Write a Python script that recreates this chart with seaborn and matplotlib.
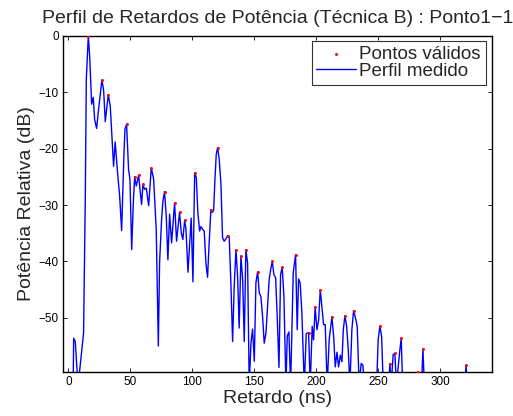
import numpy as np
import matplotlib
matplotlib.use("Agg")
import matplotlib.pyplot as plt
import seaborn as sns

# Perfil medido (ns, dB); os abaixo de -59.6 ficam fora do eixo
retardo_ns = [
    2.5, 3.8, 4.2, 5.5, 7.7, 8.5, 12.2, 13.6, 14.4, 16.0, 17.1, 18.7, 20.0, 21.1,
    22.7, 24.6, 27.0, 28.4, 29.7, 32.1, 33.7, 36.4, 37.7, 39.4, 41.3, 42.9, 44.8,
    45.6, 46.9, 48.5, 49.6, 51.0, 52.3, 53.4, 54.7, 56.6, 57.7, 59.0, 60.1, 61.4,
    62.8, 64.7, 66.8, 68.7, 70.8, 72.5, 73.5, 75.1, 76.2, 77.5, 78.9, 80.2, 81.6,
    83.2, 85.6, 87.2, 89.6, 91.0, 92.3, 93.7, 94.8, 96.4, 99.0, 100.4, 101.8,
    103.1, 104.4, 105.8, 106.9, 108.2, 109.5, 110.9, 112.2, 113.5, 114.9, 116.0,
    117.1, 118.1, 119.2, 120.3, 121.6, 123.0, 124.3, 125.6, 127.0, 128.4, 129.7,
    131.0, 132.4, 133.7, 135.1, 136.5, 137.7, 139.1, 140.5, 141.8, 143.1, 144.5,
    145.8, 147.2, 148.5, 149.9, 151.2, 152.6, 153.9, 155.2, 156.6, 157.9, 159.3,
    160.6, 161.9, 163.3, 164.4, 165.7, 167.1, 168.4, 169.8, 171.1, 172.4, 173.8,
    175.4, 176.5, 177.8, 179.2, 181.3, 183.2, 184.5, 185.6, 186.9, 188.3, 190.2,
    191.8, 193.7, 195.0, 196.6, 197.7, 199.0, 200.4, 201.8, 203.1, 204.4, 205.8,
    207.1, 208.7, 210.3, 212.5, 213.9, 215.2, 216.6, 217.9, 219.3, 220.6, 221.7,
    223.0, 224.4, 225.7, 227.0, 228.6, 230.0, 231.6, 232.9, 234.5, 236.1, 237.5,
    238.6, 242.0, 246.0, 248.8, 249.8, 251.2, 252.6, 253.9, 258.3, 259.3, 260.3,
    261.9, 263.3, 264.5, 267.3, 268.4, 269.6, 275.0, 281.6, 284.8, 285.9, 287.1,
    295.0, 305.0, 315.0, 319.6, 320.7, 321.8, 330.0, 340.0,
]
potencia_db = [
    -63.0, -62.0, -53.6, -54.2, -62.0, -60.5, -52.7, -28.4, -7.7, 0.0, -3.5, -12.1,
    -10.9, -14.8, -16.4, -12.4, -7.8, -9.7, -15.2, -10.4, -12.4, -23.1, -18.8,
    -23.7, -28.4, -34.5, -20.7, -16.5, -15.7, -23.7, -25.4, -37.9, -29.6, -25.0,
    -26.6, -24.7, -27.2, -29.9, -26.3, -27.2, -27.0, -30.1, -23.4, -25.4, -34.3,
    -55.0, -40.3, -32.6, -29.3, -27.6, -32.0, -39.7, -31.6, -36.7, -29.6, -36.4,
    -31.3, -34.9, -36.1, -32.7, -34.3, -41.9, -32.3, -43.6, -24.3, -25.1, -31.4,
    -34.6, -33.8, -34.3, -34.6, -40.3, -42.8, -36.7, -30.8, -31.3, -30.9, -25.7,
    -21.0, -19.8, -21.9, -26.3, -35.8, -36.4, -36.0, -35.4, -35.8, -43.8, -54.2,
    -44.4, -37.9, -42.9, -51.8, -39.0, -43.2, -54.2, -37.9, -40.3, -62.0, -54.5,
    -52.0, -57.7, -43.8, -41.8, -45.6, -46.2, -49.8, -54.5, -52.7, -48.0, -43.2,
    -41.2, -40.0, -42.3, -42.9, -49.8, -58.8, -42.3, -41.0, -46.2, -62.0, -53.2,
    -52.5, -62.0, -42.0, -38.8, -52.1, -43.1, -43.8, -49.2, -62.0, -52.8, -52.6,
    -62.0, -51.5, -53.9, -48.0, -52.1, -50.4, -45.0, -48.0, -51.2, -51.2, -62.0,
    -53.9, -49.8, -53.3, -58.7, -56.1, -58.7, -56.6, -57.8, -52.1, -49.6, -51.5,
    -55.7, -62.0, -52.1, -48.7, -50.1, -51.5, -62.0, -58.1, -58.4, -62.0, -65.0,
    -64.0, -60.5, -53.9, -51.5, -53.3, -62.0, -62.0, -58.1, -62.0, -56.5, -56.3,
    -62.0, -55.7, -53.6, -62.0, -64.0, -59.6, -62.0, -55.5, -62.0, -65.0, -64.0,
    -65.0, -62.0, -58.4, -62.0, -65.0, -64.0,
]

# Pontos validos (picos)
validos_ns = [
    16.0, 27.0, 32.1, 46.9, 53.4, 56.6, 60.1, 66.8, 77.5, 85.6, 89.6, 93.7, 101.8,
    114.9, 120.3, 128.4, 135.1, 139.1, 143.1, 152.6, 164.4, 172.4, 183.2, 193.7,
    199.0, 203.1, 212.5, 223.0, 230.0, 251.2, 259.3, 263.3, 268.4, 281.6, 285.9,
    320.7,
]
validos_db = [
    0.0, -7.8, -10.4, -15.7, -25.0, -24.7, -26.3, -23.4, -27.6, -29.6, -31.3,
    -32.7, -24.3, -30.8, -19.8, -35.4, -37.9, -39.0, -37.9, -41.8, -40.0, -41.0,
    -38.8, -52.6, -48.0, -45.0, -49.8, -49.6, -48.7, -51.5, -58.1, -56.3, -53.6,
    -59.6, -55.5, -58.4,
]

x_ticks = [0, 50, 100, 150, 200, 250, 300]
y_ticks = [0, -10, -20, -30, -40, -50]

sns.set_style("ticks")
plt.rcParams['font.family'] = ['Liberation Sans', 'DejaVu Sans']
plt.rcParams['axes.linewidth'] = 1.0

fig = plt.figure(figsize=(5.13, 4.16), dpi=100)
ax = fig.add_axes([0.1228, 0.1058, 0.8362, 0.8077])

sns.lineplot(x=retardo_ns, y=potencia_db, ax=ax, sort=False, color='blue',
             lw=1.0, label='Perfil medido', zorder=2)
sns.scatterplot(x=validos_ns, y=validos_db, ax=ax, color='red', marker='.',
                s=18, linewidth=0, label='Pontos válidos', zorder=3)

ax.set_xlim(-4.4, 341.6)
ax.set_ylim(-59.6, 0)
ax.set_xticks(x_ticks)
ax.set_yticks(y_ticks)
ax.tick_params(direction='in', length=3, width=0.6, top=True, right=True,
               labelsize=8.5, colors='black', pad=3)
for s in ax.spines.values():
    s.set_visible(True)
    s.set_color('black')

ax.set_title('Perfil de Retardos de Potência (Técnica B) : Ponto1−1',
             fontsize=14, pad=9)
ax.set_xlabel('Retardo (ns)', fontsize=14, labelpad=1)
ax.set_ylabel('Potência Relativa (dB)', fontsize=14, labelpad=3)

handles, labels = ax.get_legend_handles_labels()
order = [labels.index('Pontos válidos'), labels.index('Perfil medido')]
leg = ax.legend([handles[i] for i in order], [labels[i] for i in order],
                loc='upper right', bbox_to_anchor=(0.985, 0.985),
                fontsize=13.5, frameon=True, fancybox=False, borderpad=0.25,
                labelspacing=0.0, handlelength=2.1, handletextpad=0.2,
                borderaxespad=0.0)
leg.get_frame().set_edgecolor('black')
leg.get_frame().set_linewidth(0.8)

fig.savefig('out.png', dpi=100)
